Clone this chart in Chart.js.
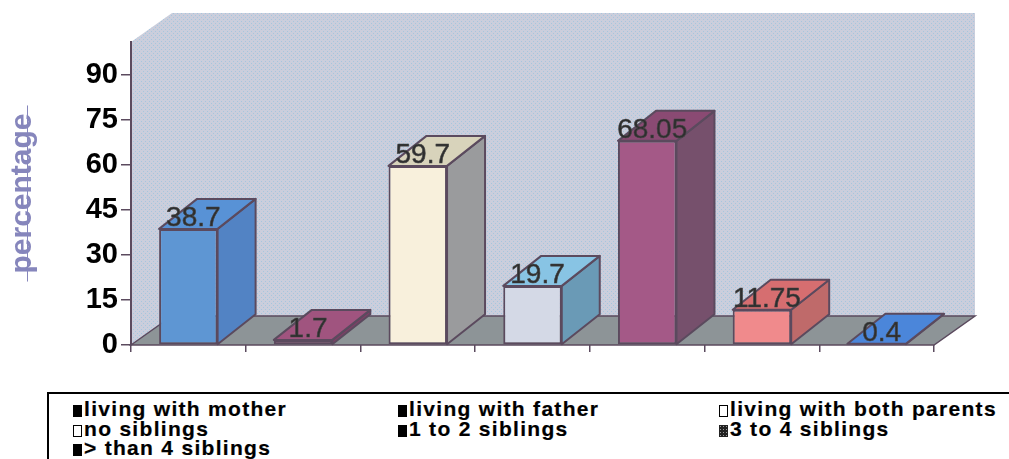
<!DOCTYPE html>
<html>
<head>
<meta charset="utf-8">
<script src="https://cdn.jsdelivr.net/npm/chart.js@4.4.1/dist/chart.umd.min.js"></script>
<style>
  html, body { margin: 0; padding: 0; background: #fff; }
  #wrap { position: relative; width: 1009px; height: 459px; overflow: hidden; }
  #chart-box { position: absolute; left: 0; top: 0; width: 1009px; height: 392px; }
  #legend {
    position: absolute; left: 47px; top: 392px; width: 962px; height: 67px;
    box-sizing: border-box; border-top: 2px solid #000; border-left: 2px solid #000;
    padding: 5px 0 0 24px;
    display: grid; grid-template-columns: 325px 321px auto; grid-auto-rows: 19.5px;
    font: bold 21px 'Liberation Sans', Arial, sans-serif; letter-spacing: 1.3px; color: #000;
    -webkit-text-stroke: 0.2px #000;
  }
  .item { white-space: nowrap; line-height: 19.5px; }
  .mark { display: inline-block; width: 9px; height: 12px; margin-right: 2px; vertical-align: -1px; box-sizing: border-box; background: #000; }
  .mark.hollow { background: #fff; border: 1.5px solid #000; }
  .mark.dotted { background: #222 radial-gradient(#999 0.8px, transparent 1px) 0 0 / 3px 3px; }
</style>
</head>
<body>
<div id="wrap">
  <div id="chart-box"><canvas id="chart" width="1009" height="392"></canvas></div>
  <div id="legend"></div>
</div>
<script>
// Household / siblings breakdown (percent)
const categories = [
  'living with mother', 'living with father', 'living with both parents',
  'no siblings', '1 to 2 siblings', '3 to 4 siblings', '> than 4 siblings'
];
const percentages = [38.7, 1.7, 59.7, 19.7, 68.05, 11.75, 0.4];
const valueLabels = ['38.7', '1.7', '59.7', '19.7', '68.05', '11.75', '0.4'];
const yTickValues = [0, 15, 30, 45, 60, 75, 90];
const yMax = 101;

const frontColors = ['#5e96d3', '#8e4872', '#f8f0dc', '#d4d9e6', '#a45987', '#f08a8c', '#4274c4'];
const topColors   = ['#5892d6', '#a0547f', '#d8d3bb', '#88c4e4', '#8a4a73', '#d66e70', '#4b86da'];
const sideColors  = ['#5283c4', '#7d3f66', '#9a9b9d', '#6a9ab6', '#76506c', '#bf6a6a', '#3c6cb4'];
const legendMarks = ['solid', 'solid', 'hollow', 'hollow', 'solid', 'dotted', 'solid'];

const OUTLINE = '#5b4a5e';
const BAR_DX = 38, BAR_DY = 30;
const FLOOR_DX = 41, FLOOR_DY = 29;

// light dotted texture for the back wall
function wallPattern(ctx) {
  const c = document.createElement('canvas');
  c.width = 4; c.height = 4;
  const p = c.getContext('2d');
  p.fillStyle = '#cbcedc';
  p.fillRect(0, 0, 4, 4);
  p.fillStyle = '#a6c6de';
  p.fillRect(1, 1, 1, 1);
  p.fillRect(3, 3, 1, 1);
  return ctx.createPattern(c, 'repeat');
}

const depthPlugin = {
  id: 'depth',
  beforeDraw(chart) {
    const { ctx, chartArea: { left, right, top, bottom } } = chart;
    ctx.save();
    // back and side wall
    ctx.fillStyle = wallPattern(ctx);
    ctx.beginPath();
    ctx.moveTo(left, bottom);
    ctx.lineTo(left, top);
    ctx.lineTo(left + FLOOR_DX, top - FLOOR_DY);
    ctx.lineTo(right + FLOOR_DX, top - FLOOR_DY);
    ctx.lineTo(right + FLOOR_DX, bottom - FLOOR_DY);
    ctx.lineTo(right, bottom);
    ctx.closePath();
    ctx.fill();
    // floor
    ctx.beginPath();
    ctx.moveTo(left, bottom);
    ctx.lineTo(left + FLOOR_DX, bottom - FLOOR_DY);
    ctx.lineTo(right + FLOOR_DX, bottom - FLOOR_DY);
    ctx.lineTo(right, bottom);
    ctx.closePath();
    ctx.fillStyle = '#8d9497';
    ctx.fill();
    ctx.strokeStyle = OUTLINE;
    ctx.lineWidth = 1.5;
    ctx.stroke();
    ctx.restore();
  },
  afterDatasetsDraw(chart) {
    const { ctx } = chart;
    const meta = chart.getDatasetMeta(0);
    ctx.save();
    ctx.strokeStyle = OUTLINE;
    ctx.lineWidth = 2;
    ctx.lineJoin = 'round';
    meta.data.forEach((bar, i) => {
      const { x, y, base, width } = bar.getProps(['x', 'y', 'base', 'width'], true);
      const l = x - width / 2, r = x + width / 2;
      // side face
      ctx.beginPath();
      ctx.moveTo(r, y);
      ctx.lineTo(r + BAR_DX, y - BAR_DY);
      ctx.lineTo(r + BAR_DX, base - BAR_DY);
      ctx.lineTo(r, base);
      ctx.closePath();
      ctx.fillStyle = sideColors[i];
      ctx.fill();
      ctx.stroke();
      // top face
      ctx.beginPath();
      ctx.moveTo(l, y);
      ctx.lineTo(l + BAR_DX, y - BAR_DY);
      ctx.lineTo(r + BAR_DX, y - BAR_DY);
      ctx.lineTo(r, y);
      ctx.closePath();
      ctx.fillStyle = topColors[i];
      ctx.fill();
      ctx.stroke();
    });
    // value labels
    ctx.font = '28px "Liberation Sans", Arial, sans-serif';
    ctx.fillStyle = '#2e2e2e';
    ctx.strokeStyle = '#444';
    ctx.lineWidth = 0.6;
    ctx.textAlign = 'center';
    ctx.textBaseline = 'alphabetic';
    meta.data.forEach((bar, i) => {
      ctx.fillText(valueLabels[i], bar.x + 5, bar.y - 3);
      ctx.strokeText(valueLabels[i], bar.x + 5, bar.y - 3);
    });
    ctx.restore();
  },
  afterDraw(chart) {
    // thin rule running through the axis title
    const { ctx } = chart;
    const ys = chart.scales.y;
    ctx.save();
    ctx.font = 'bold 30px "Liberation Sans", Arial, sans-serif';
    const half = ctx.measureText('percentage').width / 2 + 8;
    const cy = (ys.top + ys.bottom) / 2;
    ctx.strokeStyle = '#8686bc';
    ctx.lineWidth = 1;
    ctx.beginPath();
    ctx.moveTo(27.5, cy - half);
    ctx.lineTo(27.5, cy + half);
    ctx.stroke();
    ctx.restore();
  }
};

new Chart(document.getElementById('chart'), {
  type: 'bar',
  data: {
    labels: categories,
    datasets: [{
      data: percentages,
      backgroundColor: frontColors,
      borderColor: OUTLINE,
      borderWidth: 2,
      borderSkipped: false,
      barPercentage: 0.51,
      categoryPercentage: 1
    }]
  },
  options: {
    responsive: false,
    animation: false,
    layout: { padding: { top: 42, right: 75, left: 0, bottom: 0 } },
    plugins: {
      legend: { display: false },
      tooltip: { enabled: false }
    },
    scales: {
      x: {
        ticks: { display: false },
        grid: { drawOnChartArea: false, tickLength: 7, color: OUTLINE, lineWidth: 1.5, offset: true },
        border: { display: false },
        afterFit: s => { s.height = 47; }
      },
      y: {
        min: 0,
        max: yMax,
        afterBuildTicks: s => { s.ticks = yTickValues.map(v => ({ value: v })); },
        afterFit: s => { s.width = 131; },
        ticks: {
          color: '#000',
          padding: 3,
          font: { family: '"Liberation Sans", Arial, sans-serif', size: 29, weight: 'bold' }
        },
        grid: { drawOnChartArea: false, tickLength: 10, color: OUTLINE, lineWidth: 1.5 },
        border: { color: OUTLINE, width: 2 },
        title: {
          display: true,
          text: 'percentage',
          color: '#8686bc',
          font: { family: '"Liberation Sans", Arial, sans-serif', size: 30, weight: 'bold' },
          padding: { top: 5, bottom: 0 }
        }
      }
    }
  },
  plugins: [depthPlugin]
});

// legend built from the same category list
const legendEl = document.getElementById('legend');
legendEl.innerHTML = categories.map((c, i) =>
  `<div class="item"><span class="mark ${legendMarks[i]}"></span>${c.replace('>', '&gt;')}</div>`
).join('');
</script>
</body>
</html>
